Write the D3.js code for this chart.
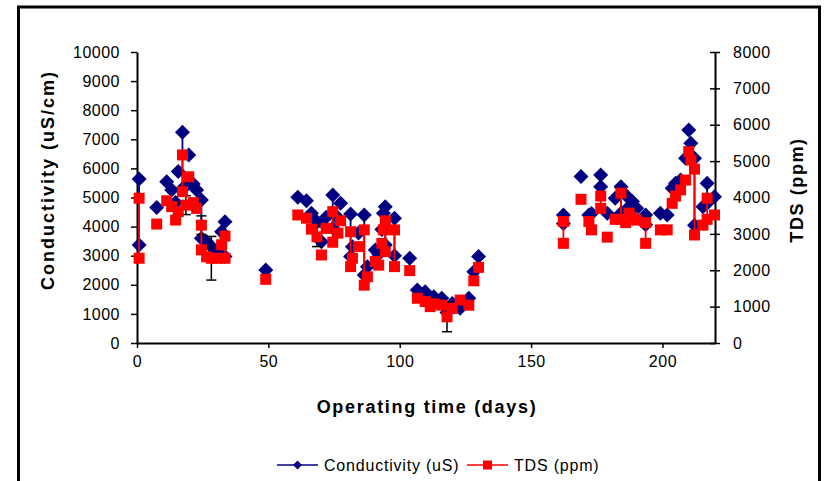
<!DOCTYPE html>
<html>
<head>
<meta charset="utf-8">
<script src="https://cdn.jsdelivr.net/npm/d3@7"></script>
<style>
  body { margin: 0; background: #fff; }
  text { font-family: "Liberation Sans", Arial, sans-serif; fill: #000; }
</style>
</head>
<body>
<div id="chart"></div>
<script>
// sampling days; points sharing a day are joined by a line (duplicate readings)
const days = [0.8, 0.8, 7.5, 11.3, 13.2, 14.7, 15.7, 17.3, 17.3, 18.6, 19.7, 21.4, 22.7, 24.5, 24.5,
  26.5, 28.3, 30.5, 32.2, 33.5, 33.5, 49, 61.2, 64.5, 66.4, 68.5, 70.2, 72, 74.5, 74.5, 76.5, 77.5,
  81.3, 81.3, 82, 84.3, 86.5, 86.5, 87.7, 90.7, 92, 93.2, 93.8, 94.5, 94.5, 98, 98, 103.8, 106.7,
  109.7, 111.6, 113, 116, 118, 120, 123, 126.3, 128.2, 130, 162.3, 162.3, 169, 172, 173, 176.5, 176.5,
  179, 182, 184.2, 184.2, 186, 187.3, 188.6, 190.2, 193.6, 193.6, 199.2, 201.8, 203.7, 205, 206.9,
  208.8, 210, 210.8, 212.2, 212.2, 215.4, 217, 217, 219.8];

const conductivity = [3370, 5640, 4660, 5540, 5260, 4830, 5890, 7240, 5300, 5400, 6460, 5460, 5260, 4910, 3600,
  3480, 3310, 3140, 3820, 4170, 2970, 2510, 5010, 4890, 4460, 4170, 3480, 4320, 5090, 3950, 4300, 4800,
  4430, 2970, 3310, 3780, 4400, 2340, 2620, 3200, 3050, 3900, 4460, 4680, 3370, 4290, 3000, 2910, 1820,
  1760, 1500, 1590, 1540, 1050, 1360, 1190, 1540, 2450, 2970, 4400, 4110, 5720, 4400, 4450, 5770, 5370,
  4460, 4970, 5370, 4460, 5090, 4680, 4860, 4630, 4400, 4060, 4460, 4400, 5320, 5490, 5600,
  6350, 7320, 6860, 6350, 4050, 4680, 5490, 4800, 5030];

const tds = [2330, 3980, 3270, 3910, 3750, 3380, 3610, 5170, 4160, 3790, 4570, 3860, 3700, 3240, 2560,
  2370, 2330, 2330, 2700, 2940, 2330, 1750, 3520, 3430, 3130, 2920, 2420, 3150, 3610, 2770, 3020, 3360,
  3060, 2100, 2330, 2650, 3110, 1590, 1820, 2240, 2140, 2740, 3110, 3360, 2510, 3110, 2100, 1990, 1230,
  1140, 1000, 1080, 1040, 720, 950, 1180, 1040, 1710, 2080, 3340, 2740, 3950, 3340, 3110, 4040, 3700,
  2910, 3400, 4120, 3400, 3310, 3570, 3450, 3380, 3310, 2740, 3110, 3110, 3840, 4040, 4210,
  4480, 5260, 5030, 4780, 2970, 3240, 3980, 3400, 3520];

// error bars on TDS (day of point, +/- ppm)
const errDays = [18.6, 24.5, 28.3, 68.5, 118];
const errSize = [260, 255, 600, 270, 410];

const xTicks = [0, 50, 100, 150, 200];
const condTicks = d3.range(0, 10001, 1000);
const tdsTicks = d3.range(0, 8001, 1000);

const W = 827, H = 481;
const navy = "#000080", red = "#ff0000";

const data = days.map((d, i) => ({day: d, c: conductivity[i], t: tds[i]}));

const svg = d3.select("#chart").append("svg")
    .attr("width", W)
    .attr("height", H);

// outer frame
svg.append("rect")
    .attr("x", 18.5).attr("y", 7)
    .attr("width", 801).attr("height", 500)
    .attr("fill", "none")
    .attr("stroke", "#000")
    .attr("stroke-width", 3);

const x = d3.scaleLinear().domain([0, 220]).range([137, 715]);
const yC = d3.scaleLinear().domain([0, 10000]).range([343, 52]);
const yT = d3.scaleLinear().domain([0, 8000]).range([343, 52]);

// axes
const gx = svg.append("g")
    .attr("transform", "translate(0,343)")
    .call(d3.axisBottom(x).tickValues(xTicks).tickFormat(d3.format("d"))
        .tickSize(5).tickSizeOuter(0).tickPadding(8));

const gl = svg.append("g")
    .attr("transform", "translate(137,0)")
    .call(d3.axisLeft(yC).tickValues(condTicks).tickFormat(d3.format("d"))
        .tickSize(6).tickSizeOuter(0).tickPadding(11));

const gr = svg.append("g")
    .attr("transform", "translate(715,0)")
    .call(d3.axisRight(yT).tickValues(tdsTicks).tickFormat(d3.format("d"))
        .tickSize(5).tickSizeOuter(0).tickPadding(13));
gr.selectAll(".tick line").attr("x1", -5).attr("x2", 5);

[gx, gl, gr].forEach(g => {
    g.select(".domain").attr("stroke", "#000").attr("stroke-width", 2);
    g.selectAll(".tick line").attr("stroke", "#000").attr("stroke-width", 1.5);
    g.selectAll(".tick text")
        .attr("font-size", 16)
        .attr("letter-spacing", 0.5)
        .attr("font-family", "'Liberation Sans', Arial, sans-serif")
        .attr("fill", "#000");
});

// axis titles
svg.append("text")
    .attr("x", 427).attr("y", 413)
    .attr("text-anchor", "middle")
    .attr("font-size", 18).attr("font-weight", "bold")
    .attr("letter-spacing", 1.7)
    .text("Operating time (days)");

svg.append("text")
    .attr("transform", "translate(54,180) rotate(-90)")
    .attr("text-anchor", "middle")
    .attr("font-size", 18).attr("font-weight", "bold")
    .attr("letter-spacing", 2)
    .text("Conductivity (uS/cm)");

svg.append("text")
    .attr("transform", "translate(803,190) rotate(-90)")
    .attr("text-anchor", "middle")
    .attr("font-size", 18).attr("font-weight", "bold")
    .attr("letter-spacing", 1.6)
    .text("TDS (ppm)");

const diamond = r => `M0,${-r}L${r},0L0,${r}L${-r},0Z`;
const square = s => `M${-s / 2},${-s / 2}h${s}v${s}h${-s}Z`;

const groups = d3.groups(data, d => d.day).filter(g => g[1].length > 1);

// conductivity
const lineC = d3.line().x(d => x(d.day)).y(d => yC(d.c));
svg.append("g").selectAll("path")
    .data(groups)
    .join("path")
    .attr("d", g => lineC(g[1]))
    .attr("fill", "none")
    .attr("stroke", navy)
    .attr("stroke-width", 1.8);

svg.append("g").selectAll("path")
    .data(data)
    .join("path")
    .attr("transform", d => `translate(${x(d.day)},${yC(d.c)})`)
    .attr("d", diamond(7.5))
    .attr("fill", navy);

// error bars
const errG = svg.append("g");
errDays.forEach((dd, i) => {
    const p = data.find(d => d.day === dd);
    const cx = x(p.day), y0 = yT(p.t - errSize[i]), y1 = yT(p.t + errSize[i]);
    errG.append("line").attr("x1", cx).attr("x2", cx).attr("y1", y0).attr("y2", y1)
        .attr("stroke", "#000").attr("stroke-width", 1.5);
    [y0, y1].forEach(yy => errG.append("line")
        .attr("x1", cx - 5).attr("x2", cx + 5).attr("y1", yy).attr("y2", yy)
        .attr("stroke", "#000").attr("stroke-width", 1.5));
});

// tds
const lineT = d3.line().x(d => x(d.day)).y(d => yT(d.t));
svg.append("g").selectAll("path")
    .data(groups)
    .join("path")
    .attr("d", g => lineT(g[1]))
    .attr("fill", "none")
    .attr("stroke", red)
    .attr("stroke-width", 1.8);

svg.append("g").selectAll("path")
    .data(data)
    .join("path")
    .attr("transform", d => `translate(${x(d.day)},${yT(d.t)})`)
    .attr("d", square(11))
    .attr("fill", red);

// legend
const legend = svg.append("g").attr("transform", "translate(0,465)");
const items = [
    {label: "Conductivity (uS)", color: navy, shape: diamond(4.5), x0: 277},
    {label: "TDS (ppm)", color: red, shape: square(9), x0: 467}
];
items.forEach(it => {
    legend.append("line")
        .attr("x1", it.x0).attr("x2", it.x0 + 41)
        .attr("stroke", it.color).attr("stroke-width", 1.5);
    legend.append("path")
        .attr("transform", `translate(${it.x0 + 20.5},0)`)
        .attr("d", it.shape)
        .attr("fill", it.color);
    legend.append("text")
        .attr("x", it.x0 + 47).attr("y", 6)
        .attr("font-size", 16)
        .attr("letter-spacing", 0.8)
        .text(it.label);
});
</script>
</body>
</html>
